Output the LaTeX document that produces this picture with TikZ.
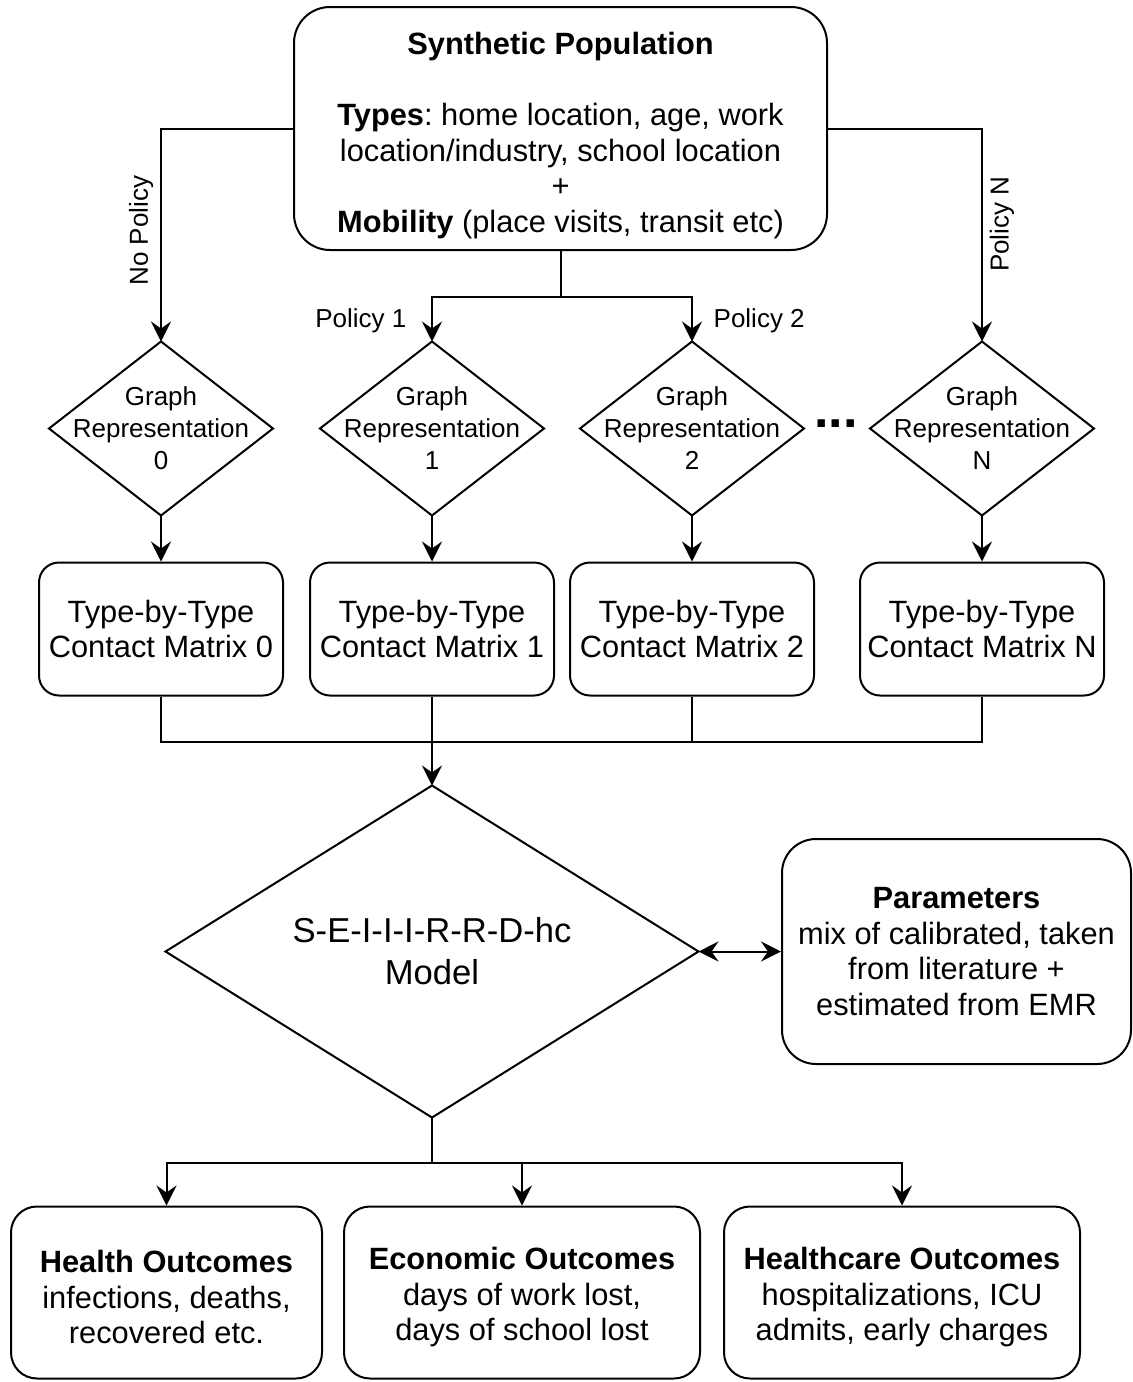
\documentclass[tikz,border=0pt]{standalone}
\usepackage{fontspec}
\setmainfont{Liberation Sans}
\usetikzlibrary{positioning,arrows.meta}
\frenchspacing

\newcommand{\boxfont}{\fontsize{15.4}{17.8}\selectfont}
\newcommand{\graphfont}{\fontsize{13}{16}\selectfont}
\newcommand{\modelfont}{\fontsize{17.3}{21}\selectfont}

\tikzset{
	link/.style={line width=1pt},
	arr/.style={link,-{Stealth[length=10pt,width=10pt,inset=3.5pt]}},
	dblarr/.style={link,{Stealth[length=10pt,width=10pt,inset=3.5pt]}-{Stealth[length=10pt,width=10pt,inset=3.5pt]}},
	popbox/.style={draw,line width=1pt,rounded corners=18pt,minimum width=266.5pt,minimum height=121.5pt,align=center,font=\boxfont},
	matbox/.style={draw,line width=1pt,rounded corners=10pt,minimum width=122pt,minimum height=66.5pt,align=center,font=\boxfont},
	parambox/.style={draw,line width=1pt,rounded corners=17pt,minimum width=174.5pt,minimum height=112.5pt,align=center,font=\boxfont},
	outbox/.style={draw,line width=1pt,rounded corners=13pt,minimum width=178pt,minimum height=86pt,align=center,font=\boxfont},
	graphnode/.style={minimum width=112pt,minimum height=87pt,inner sep=0pt,outer sep=0pt,align=center,font=\graphfont},
	modelnode/.style={minimum width=266.5pt,minimum height=166pt,inner sep=0pt,outer sep=0pt,align=center,font=\modelfont},
	ellip/.style={inner sep=0pt,font=\fontsize{26}{26}\selectfont\bfseries},
	pollabel/.style={font=\graphfont}
}

\begin{document}
\begin{tikzpicture}[on grid]
	\useasboundingbox (0,0) rectangle (566.5pt,-691pt);

	\node [popbox] (pop) at (280.25pt,-64.25pt) {\rule{0pt}{18pt}\textbf{Synthetic Population}\\[18pt]
		\textbf{Types}: home location, age, work\\location/industry, school location\\+\\
		\textbf{Mobility} (place visits, transit etc)};

	\node [graphnode, below left=150pt and 64.25pt of pop] (g1) {Graph\\Representation\\1};
	\node [graphnode, left=135.5pt of g1] (g0) {Graph\\Representation\\0};
	\node [graphnode, right=130pt of g1] (g2) {Graph\\Representation\\2};
	\node [graphnode, right=145pt of g2] (gN) {Graph\\Representation\\N};
	\node [ellip, above right=2.5pt and 72pt of g2] (gdots) {...};

	\node [matbox, below=100.25pt of g0] (c0) {Type-by-Type\\Contact Matrix 0};
	\node [matbox, below=100.25pt of g1] (c1) {Type-by-Type\\Contact Matrix 1};
	\node [matbox, below=100.25pt of g2] (c2) {Type-by-Type\\Contact Matrix 2};
	\node [matbox, below=100.25pt of gN] (cN) {Type-by-Type\\Contact Matrix N};

	\node [modelnode, below=261.5pt of g1] (model) {S-E-I-I-I-R-R-D-hc\\Model};
	\node [parambox, right=262.25pt of model] (param) {\textbf{Parameters}\\mix of calibrated, taken\\from literature +\\estimated from EMR};

	\node [outbox, minimum width=155.5pt, below left=170.5pt and 132.75pt of model] (hlth) {\rule{0pt}{16pt}\textbf{Health Outcomes}\\infections, deaths,\\recovered etc.};
	\node [outbox, below right=170.5pt and 45pt of model] (econ) {\rule{0pt}{16pt}\textbf{Economic Outcomes}\\days of work lost,\\days of school lost};
	\node [outbox, right=190pt of econ] (hcare) {\rule{0pt}{16pt}\textbf{Healthcare Outcomes}\\hospitalizations, ICU\\admits, early charges};

	% diamonds
	\foreach \g in {g0,g1,g2,gN,model}
		\draw [link] (\g.north) -- (\g.east) -- (\g.south) -- (\g.west) -- cycle;

	\coordinate [below=23pt of pop.south] (fork);
	\coordinate [below=22.5pt of c1.south] (merge);
	\coordinate [below=22.5pt of model.south] (split);

	\draw [arr] (pop.west) -| (g0.north) node [pollabel, pos=0.74, rotate=90, above] {No Policy};
	\draw [arr] (pop.east) -| (gN.north) node [pollabel, pos=0.72, rotate=90, below=1pt] {Policy N};
	\draw [link] (pop.south) -- (fork);
	\draw [arr] (fork) -| (g1.north) node [pollabel, pos=0.77, left=9pt] {Policy 1};
	\draw [arr] (fork) -| (g2.north) node [pollabel, pos=0.77, right=7pt] {Policy 2};

	\draw [arr] (g0.south) -- (c0.north);
	\draw [arr] (g1.south) -- (c1.north);
	\draw [arr] (g2.south) -- (c2.north);
	\draw [arr] (gN.south) -- (cN.north);

	\draw [link] (c0.south) |- (merge) -| (cN.south);
	\draw [link] (c2.south) -- (c2.south |- merge);
	\draw [arr] (c1.south) -- (model.north);

	\draw [dblarr] (model.east) -- (param.west);

	\draw [link] (model.south) -- (split);
	\draw [arr] (split) -| (hlth.north);
	\draw [arr] (split) -| (econ.north);
	\draw [arr] (split) -| (hcare.north);
\end{tikzpicture}
\end{document}
